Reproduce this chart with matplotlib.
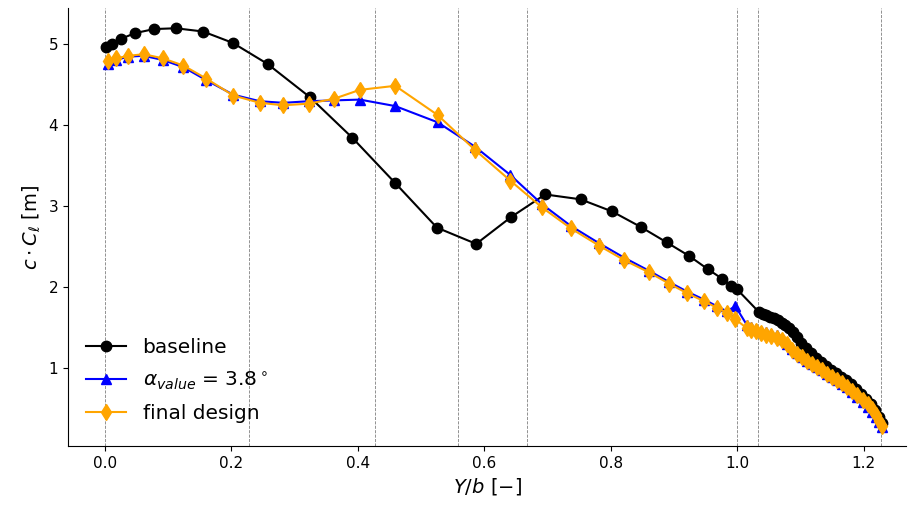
import numpy as np
import matplotlib
matplotlib.use('Agg')
import matplotlib.pyplot as plt

# spanwise stations (Y/b) and lift loading c*Cl for the baseline wing
y_base = [0.0016, 0.0106, 0.0253, 0.0475, 0.0775, 0.112, 0.155, 0.202,
          0.257, 0.324, 0.391, 0.459, 0.525, 0.587, 0.642, 0.696, 0.752,
          0.802, 0.847, 0.888, 0.924, 0.953, 0.976, 0.990, 0.9995,
          1.034, 1.040, 1.046, 1.052, 1.058, 1.064, 1.070, 1.076, 1.082,
          1.088, 1.094, 1.100, 1.108, 1.116, 1.124, 1.132, 1.140, 1.148,
          1.156, 1.164, 1.172, 1.180, 1.188, 1.196, 1.204, 1.212, 1.218,
          1.224, 1.229]
ccl_base = [4.96, 5.00, 5.06, 5.13, 5.18, 5.19, 5.15, 5.01,
            4.75, 4.34, 3.84, 3.28, 2.73, 2.53, 2.86, 3.14, 3.08,
            2.93, 2.74, 2.55, 2.38, 2.22, 2.10, 2.01, 1.97,
            1.69, 1.67, 1.65, 1.63, 1.61, 1.59, 1.56, 1.53, 1.49,
            1.44, 1.38, 1.31, 1.24, 1.18, 1.12, 1.07, 1.02, 0.98,
            0.94, 0.89, 0.85, 0.80, 0.74, 0.68, 0.62, 0.55, 0.48,
            0.40, 0.32]

# stations used by the optimised geometry (same grid for both runs)
y_opt = [0.004, 0.018, 0.037, 0.061, 0.091, 0.124, 0.160, 0.203,
         0.245, 0.282, 0.322, 0.362, 0.403, 0.459, 0.526, 0.585,
         0.641, 0.691, 0.737, 0.781, 0.821, 0.860, 0.892, 0.921,
         0.948, 0.968, 0.983, 0.997, 1.015,
         1.022, 1.030, 1.038, 1.046, 1.054, 1.062, 1.070, 1.078, 1.086,
         1.094, 1.102, 1.110, 1.118, 1.126, 1.134, 1.142, 1.150, 1.158,
         1.166, 1.174, 1.182, 1.190, 1.198, 1.206, 1.213, 1.219, 1.224,
         1.228]
ccl_alpha = [4.75, 4.80, 4.84, 4.85, 4.80, 4.71, 4.55, 4.37,
             4.29, 4.27, 4.29, 4.30, 4.31, 4.23, 4.03, 3.73,
             3.38, 3.02, 2.75, 2.54, 2.36, 2.20, 2.06, 1.94,
             1.84, 1.76, 1.70, 1.76, 1.53,
             1.50, 1.48, 1.46, 1.44, 1.42, 1.40, 1.36, 1.30, 1.23,
             1.18, 1.13, 1.09, 1.05, 1.01, 0.97, 0.93, 0.89, 0.85,
             0.80, 0.76, 0.70, 0.64, 0.58, 0.52, 0.46, 0.39, 0.33,
             0.27]
ccl_final = [4.78, 4.82, 4.85, 4.87, 4.82, 4.73, 4.57, 4.36,
             4.27, 4.24, 4.26, 4.32, 4.43, 4.48, 4.12, 3.69,
             3.31, 2.98, 2.72, 2.51, 2.33, 2.18, 2.04, 1.92,
             1.82, 1.74, 1.68, 1.60, 1.49,
             1.47, 1.45, 1.43, 1.41, 1.39, 1.37, 1.34, 1.29, 1.22,
             1.17, 1.13, 1.09, 1.05, 1.01, 0.97, 0.93, 0.89, 0.85,
             0.81, 0.77, 0.72, 0.66, 0.61, 0.55, 0.49, 0.42, 0.35,
             0.28]

# section breaks along the span
breaks = [0.0, 0.228, 0.4275, 0.5586, 0.667, 1.0, 1.033, 1.227]

fig = plt.figure(figsize=(9.08, 5.09), dpi=100)
ax = fig.add_axes([0.0749, 0.1238, 0.9231, 0.8605])

for b in breaks:
    ax.axvline(b, color='grey', ls='--', lw=0.6)

ax.plot(y_base, ccl_base, 'k-o', lw=1.5, ms=7.5, label='baseline')
ax.plot(y_opt, ccl_alpha, '-^', color='blue', lw=1.5, ms=7.5,
        label=r'$\alpha_{value}$ = 3.8$^\circ$')
ax.plot(y_opt, ccl_final, '-d', color='orange', lw=1.5, ms=8.5,
        label='final design')

ax.set_xlim(-0.0585, 1.267)
ax.set_ylim(0.037, 5.44)
ax.set_xticks([0.0, 0.2, 0.4, 0.6, 0.8, 1.0, 1.2])
ax.set_yticks([1, 2, 3, 4, 5])
ax.tick_params(labelsize=11)
ax.spines['top'].set_visible(False)
ax.spines['right'].set_visible(False)

ax.set_xlabel(r'$Y/b\ [-]$', fontsize=14)
ax.set_ylabel(r'$c \cdot C_\ell\ [\mathrm{m}]$', fontsize=14)
ax.legend(loc='lower left', bbox_to_anchor=(0, 0.012), frameon=False,
          fontsize=14.5, labelspacing=0.62, borderaxespad=0.5)

fig.savefig('out.png', dpi=100)
